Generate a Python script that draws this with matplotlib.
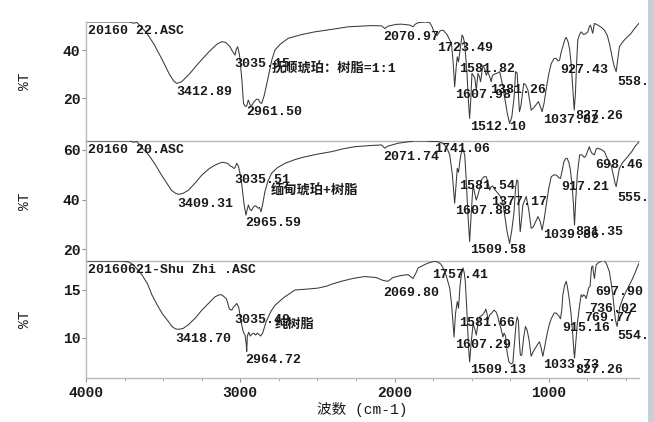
"""Three stacked IR spectra (amber / resin mixtures) redrawn with matplotlib."""

import matplotlib
matplotlib.use("Agg")
import matplotlib.pyplot as plt
from matplotlib.patches import Rectangle
from matplotlib.ticker import MultipleLocator

FONT = ["Liberation Mono", "Noto Sans CJK SC"]
LINE_COLOR = "#3a3a3a"
SPINE_COLOR = "#b8b8b8"
TEXT_COLOR = "#1a1a1a"
EDGE_BAR_COLOR = "#c9cfd6"

FIG_W, FIG_H = 654, 422
LEFT, RIGHT = 86, 639
PANEL_EDGES = [22, 141, 261, 378]   # pixel rows: top of panel 1 ... bottom of panel 3

# --- panel 1: 抚顺琥珀：树脂=1:1 ---------------------------------------------
WN1 = [4000, 3720, 3690, 3670, 3640, 3605, 3560, 3510, 3460, 3430, 3411, 3380, 3330,
       3271, 3200, 3150, 3120, 3095, 3066, 3055, 3045, 3034, 3025, 3017, 3005, 2990,
       2979, 2968, 2958, 2948, 2935, 2925, 2910, 2895, 2883, 2870, 2861, 2845, 2818,
       2795, 2775, 2740, 2689, 2600, 2516, 2400, 2300, 2150, 2084, 2063, 2040, 1990,
       1955, 1900, 1880, 1865, 1847, 1800, 1771, 1755, 1740, 1725, 1705, 1685, 1660,
       1631, 1620, 1610, 1600, 1593, 1585, 1575, 1562, 1555, 1545, 1530, 1520, 1513,
       1505, 1498, 1490, 1480, 1470, 1459, 1450, 1442, 1427, 1415, 1405, 1395, 1383,
       1373, 1365, 1350, 1330, 1318, 1305, 1297, 1285, 1270, 1254, 1240, 1225, 1215,
       1205, 1190, 1180, 1162, 1150, 1135, 1114, 1100, 1085, 1067, 1055, 1043, 1030,
       1016, 1000, 984, 965, 952, 940, 930, 920, 909, 895, 887, 875, 865, 855, 845,
       835, 827, 820, 812, 800, 790, 775, 760, 747, 738, 730, 722, 715, 708, 704, 695,
       682, 660, 639, 620, 607, 595, 585, 575, 563, 555, 542, 525, 510, 490, 466, 440,
       412]
T1 = [51.7, 51.7, 51.2, 51.5, 49.5, 47.0, 42.5, 36.5, 30.0, 27.0, 26.1, 26.8, 30.0,
      34.5, 39.5, 42.5, 43.5, 43.2, 41.4, 40.0, 39.0, 37.9, 40.5, 41.4, 38.0, 28.0,
      17.8, 16.5, 16.7, 19.2, 17.0, 17.0, 18.5, 19.5, 19.5, 18.0, 17.8, 21.0, 28.9,
      36.0, 40.0, 42.5, 44.9, 46.5, 47.6, 48.7, 49.7, 50.2, 50.1, 49.0, 50.0, 50.7,
      50.8, 50.4, 49.7, 50.8, 51.4, 51.7, 51.4, 49.5, 47.0, 46.0, 48.0, 48.3, 46.5,
      42.8, 35.0, 24.7, 33.0, 37.2, 35.1, 40.0, 46.3, 45.5, 42.8, 30.0, 18.0, 11.5,
      20.0, 30.3, 29.5, 28.5, 23.3, 30.3, 29.0, 26.8, 33.7, 32.0, 29.5, 31.0, 28.9,
      26.8, 29.5, 30.0, 30.5, 31.0, 27.0, 24.7, 20.0, 14.0, 9.4, 12.0, 20.0, 31.0,
      30.5, 14.3, 17.0, 26.1, 25.5, 23.3, 15.0, 15.8, 17.0, 18.5, 16.5, 14.3, 18.0,
      24.0, 30.0, 34.4, 36.5, 36.5, 35.5, 35.8, 39.0, 41.4, 44.5, 45.3, 43.5, 40.5,
      34.4, 25.0, 15.0, 22.0, 34.0, 44.2, 46.5, 47.6, 46.5, 46.8, 47.6, 49.5, 50.4,
      48.5, 47.0, 49.5, 51.1, 50.8, 50.4, 49.5, 48.3, 46.0, 42.8, 39.0, 35.8, 33.0,
      31.0, 35.0, 41.4, 43.0, 44.2, 45.5, 47.0, 49.3, 51.4]

# --- panel 2: 缅甸琥珀+树脂 ----------------------------------------------------
WN2 = [4000, 3720, 3690, 3670, 3640, 3594, 3550, 3511, 3475, 3447, 3420, 3400, 3370,
       3335, 3290, 3249, 3200, 3163, 3130, 3109, 3080, 3065, 3055, 3040, 3033, 3023,
       3012, 3000, 2990, 2975, 2963, 2955, 2947, 2937, 2927, 2915, 2900, 2885, 2875,
       2865, 2855, 2840, 2820, 2797, 2760, 2710, 2650, 2602, 2500, 2408, 2330, 2257,
       2150, 2084, 2063, 2045, 1977, 1920, 1869, 1800, 1761, 1720, 1690, 1675, 1655,
       1642, 1625, 1610, 1600, 1593, 1585, 1575, 1562, 1555, 1545, 1535, 1525, 1513,
       1503, 1491, 1480, 1470, 1458, 1448, 1435, 1420, 1405, 1395, 1383, 1375, 1365,
       1350, 1329, 1310, 1297, 1285, 1270, 1254, 1240, 1225, 1215, 1207, 1200, 1190,
       1185, 1175, 1168, 1146, 1130, 1114, 1100, 1085, 1070, 1055, 1043, 1030, 1016,
       1000, 984, 965, 950, 935, 924, 912, 902, 890, 881, 870, 860, 849, 840, 833,
       825, 815, 800, 785, 770, 760, 753, 745, 737, 728, 718, 704, 695, 687, 660,
       639, 620, 596, 580, 570, 563, 555, 542, 520, 488, 460, 440, 412]
T2 = [63.6, 63.6, 63.1, 63.4, 61.0, 58.0, 54.0, 49.9, 46.5, 43.8, 42.5, 42.1, 42.5,
      43.8, 46.8, 49.9, 52.5, 53.9, 54.8, 55.0, 54.5, 53.5, 53.3, 52.5, 53.0, 54.6,
      53.5, 50.0, 45.9, 38.0, 33.7, 36.0, 37.8, 36.0, 35.5, 37.0, 37.5, 36.5, 36.8,
      35.1, 38.0, 43.2, 47.5, 50.6, 52.8, 54.6, 56.0, 56.9, 58.3, 59.3, 60.5, 61.3,
      61.8, 62.0, 60.7, 61.5, 62.7, 63.2, 63.6, 63.6, 63.4, 63.4, 62.8, 62.0, 60.0,
      58.0, 50.0, 38.5, 47.0, 52.6, 51.0, 56.0, 60.7, 60.0, 58.0, 48.0, 35.0, 23.0,
      34.0, 45.9, 42.5, 39.8, 42.0, 44.5, 48.0, 49.2, 49.2, 47.0, 43.8, 45.0, 45.5,
      44.0, 42.5, 41.0, 38.5, 33.5, 27.0, 22.3, 27.5, 35.0, 45.0, 47.9, 47.5, 32.0,
      27.0, 33.0, 37.8, 41.2, 36.0, 28.4, 29.0, 31.0, 33.1, 31.0, 27.7, 32.0, 38.0,
      44.5, 49.2, 50.0, 49.8, 48.8, 48.5, 52.0, 55.3, 56.5, 56.6, 55.0, 52.0, 45.9,
      38.0, 29.7, 40.0, 50.0, 58.0, 58.0, 57.0, 57.5, 58.7, 60.0, 61.3, 59.5, 58.5,
      58.0, 60.0, 60.7, 60.2, 59.3, 56.5, 53.9, 49.5, 46.5, 45.2, 48.0, 52.6, 55.0,
      57.3, 59.5, 61.5, 63.4]

# --- panel 3: 纯树脂 -------------------------------------------------------------
WN3 = [4000, 3760, 3720, 3692, 3638, 3600, 3573, 3540, 3508, 3470, 3443, 3420, 3400,
       3370, 3335, 3290, 3249, 3200, 3163, 3135, 3120, 3090, 3070, 3055, 3045, 3033,
       3023, 3010, 2995, 2980, 2969, 2962, 2958, 2954, 2945, 2935, 2925, 2913, 2900,
       2890, 2880, 2868, 2855, 2832, 2800, 2775, 2740, 2710, 2645, 2560, 2494, 2440,
       2408, 2346, 2270, 2195, 2120, 2075, 2043, 2010, 1960, 1912, 1880, 1860, 1847,
       1810, 1783, 1740, 1718, 1700, 1685, 1665, 1642, 1630, 1614, 1605, 1593, 1585,
       1575, 1566, 1556, 1548, 1541, 1530, 1520, 1513, 1503, 1491, 1480, 1470, 1458,
       1448, 1430, 1416, 1408, 1400, 1394, 1383, 1370, 1355, 1341, 1330, 1320, 1310,
       1297, 1290, 1280, 1270, 1258, 1245, 1233, 1222, 1212, 1205, 1197, 1190, 1184,
       1175, 1163, 1151, 1140, 1128, 1114, 1100, 1085, 1070, 1060, 1050, 1038, 1025,
       1010, 995, 984, 965, 952, 935, 924, 915, 909, 897, 887, 880, 874, 865, 855,
       845, 838, 833, 825, 815, 800, 790, 782, 775, 766, 758, 750, 742, 732, 727,
       722, 715, 710, 704, 699, 693, 682, 672, 660, 650, 638, 628, 618, 607, 596,
       585, 575, 568, 557, 550, 540, 520, 500, 488, 465, 445, 428, 412]
T3 = [18.0, 18.0, 17.9, 17.6, 16.6, 15.6, 14.5, 13.5, 12.6, 11.8, 11.2, 10.95, 10.9,
      11.0, 11.4, 12.1, 12.9, 13.7, 14.3, 14.5, 14.5, 14.1, 13.0, 12.9, 13.2, 13.4,
      13.6, 13.2, 11.7, 10.6, 10.3, 9.5, 8.6, 10.2, 10.6, 10.2, 10.4, 10.5, 10.3,
      10.5, 10.4, 10.2, 10.5, 11.7, 12.8, 13.4, 13.9, 14.3, 15.0, 15.1, 15.2, 15.4,
      15.6, 15.9, 16.2, 16.4, 16.3, 16.0, 15.9, 16.3, 16.5, 16.6, 16.2, 16.8, 17.3,
      17.6, 17.8, 18.0, 17.9, 17.7, 17.3, 16.5, 15.2, 13.5, 10.1, 12.5, 13.8, 13.1,
      15.5, 16.6, 17.3, 16.8, 15.9, 12.5, 9.0, 7.5, 9.5, 11.4, 11.0, 10.3, 11.5,
      12.2, 12.4, 12.7, 13.0, 12.5, 11.9, 12.4, 12.6, 12.9, 12.7, 12.2, 11.5, 11.0,
      10.1, 10.5, 10.2, 8.5, 7.5, 7.3, 7.4, 9.5, 11.5, 12.2, 11.8, 9.5, 8.2,
      8.2, 10.0, 11.2, 10.8, 9.8, 8.1, 8.6, 9.0, 9.4, 9.6, 9.0, 8.1, 9.2,
      10.5, 11.5, 12.0, 12.6, 12.6, 12.3, 12.0, 13.0, 14.5, 15.5, 15.9, 15.4, 14.8,
      13.8, 12.4, 10.5, 8.8, 7.9, 9.5, 11.5, 13.4, 14.5, 14.3, 14.5, 14.4, 14.1,
      14.6, 15.2, 15.4, 16.5, 17.4, 17.5, 16.8, 16.2, 16.8, 17.6, 17.8, 17.9, 18.0,
      18.1, 18.0, 17.8, 17.4, 16.9, 15.8, 14.5, 13.0, 11.9, 11.2, 12.0, 13.2, 14.1,
      14.8, 15.2, 15.9, 16.6, 17.3, 17.9]

# titles, sample notes and peak labels (label text is the wavenumber, second value is %T height)
FILE_NAMES = ["20160 22.ASC", "20160 20.ASC", "20160621-Shu Zhi .ASC"]
NOTES = [("抚顺琥珀：树脂=1:1", 2796, 32.2),
         ("缅甸琥珀+树脂", 2803, 43.4),
         ("纯树脂", 2777, 11.35)]
PEAKS1 = [("3412.89", 22.5), ("3035.15", 34.2), ("2961.50", 14.3), ("2070.97", 45.4),
          ("1723.49", 40.8), ("1581.82", 32.1), ("1607.98", 21.2), ("1381.26", 23.3),
          ("1512.10", 7.9), ("1037.82", 10.8), ("827.26", 12.5), ("927.43", 31.7),
          ("558.", 26.7)]
PEAKS2 = [("3409.31", 38.2), ("3035.51", 47.9), ("2965.59", 30.5), ("2071.74", 57.2),
          ("1741.06", 60.4), ("1581.54", 45.5), ("1607.88", 35.4), ("1377.17", 39.0),
          ("1509.58", 19.6), ("917.21", 45.1), ("1039.86", 25.7), ("831.35", 26.9),
          ("698.46", 53.9), ("555.", 40.6)]
PEAKS3 = [("3418.70", 9.9), ("3035.49", 11.9), ("2964.72", 7.7), ("2069.80", 14.7),
          ("1757.41", 16.6), ("1581.66", 11.6), ("1607.29", 9.3), ("1509.13", 6.7),
          ("1033.73", 7.2), ("827.26", 6.7), ("915.16", 11.0), ("769.77", 12.1),
          ("736.02", 13.0), ("697.90", 14.8), ("554.", 10.2)]

YLIMS = [(2.1, 51.7), (15.2, 63.6), (5.83, 18.02)]
YTICKS = [[20, 40], [20, 40, 60], [10, 15]]
XTICKS = [4000, 3000, 2000, 1000]


def main():
    plt.rcParams["font.family"] = FONT
    plt.rcParams["font.weight"] = "bold"
    fig = plt.figure(figsize=(FIG_W / 100, FIG_H / 100), dpi=100)
    fig.patch.set_facecolor("white")

    # grey strip at the right edge of the screenshot
    fig.patches.append(Rectangle((648 / FIG_W, 0), 6 / FIG_W, 1, transform=fig.transFigure,
                                 facecolor=EDGE_BAR_COLOR, edgecolor="none"))

    data = [(WN1, T1, PEAKS1), (WN2, T2, PEAKS2), (WN3, T3, PEAKS3)]
    for i, (wn, t, peaks) in enumerate(data):
        top, bottom = PANEL_EDGES[i], PANEL_EDGES[i + 1]
        ax = fig.add_axes([LEFT / FIG_W, 1 - bottom / FIG_H,
                           (RIGHT - LEFT) / FIG_W, (bottom - top) / FIG_H])
        ax.patch.set_alpha(0)
        ax.plot(wn, t, color=LINE_COLOR, lw=0.75)
        ax.set_xlim(4000, 415)
        ax.set_ylim(*YLIMS[i])
        ax.set_yticks(YTICKS[i])
        ax.set_xticks(XTICKS)
        ax.xaxis.set_minor_locator(MultipleLocator(250))

        ax.spines["top"].set_visible(False)
        ax.spines["right"].set_visible(False)
        for name in ("left", "bottom"):
            ax.spines[name].set_color(SPINE_COLOR)
            ax.spines[name].set_linewidth(1.0)
        ax.tick_params(axis="both", which="major", length=3, width=0.8,
                       color="#909090", pad=1, labelsize=10.5, labelcolor=TEXT_COLOR)
        ax.tick_params(axis="x", which="minor", length=2, width=0.6, color="#a0a0a0")
        if i < 2:
            ax.tick_params(axis="x", which="both", bottom=False, labelbottom=False)
        else:
            ax.tick_params(axis="x", which="major", pad=3)
            ax.set_xlabel("波数 (cm-1)", fontsize=10.5, color=TEXT_COLOR, labelpad=1)

        ax.set_ylabel("%T", fontsize=10.5, color=TEXT_COLOR)
        ax.yaxis.set_label_coords(-0.098, 0.5)

        ax.text(0.003, 0.925, FILE_NAMES[i], transform=ax.transAxes, ha="left",
                va="center", fontsize=9.5, color=TEXT_COLOR)
        note, nx, ny = NOTES[i]
        ax.text(nx, ny, note, ha="left", va="center", fontsize=9.5, color=TEXT_COLOR)
        for label, y in peaks:
            ax.text(float(label), y, label, ha="left", va="center",
                    fontsize=9.5, color=TEXT_COLOR)

    fig.savefig("out.png", dpi=100, facecolor="white")
    plt.close(fig)


if __name__ == "__main__":
    main()
